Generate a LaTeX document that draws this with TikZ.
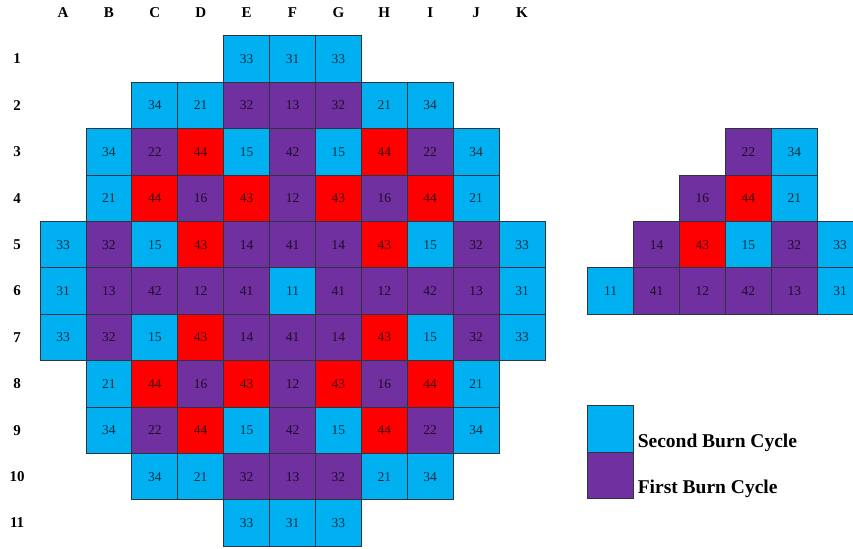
\documentclass[tikz,border=0pt]{standalone}
\usepackage{fontspec}
\setmainfont{Liberation Serif}
\usetikzlibrary{positioning,calc}
\definecolor{cyclblue}{HTML}{00B0F0}
\definecolor{cyclpurple}{HTML}{7030A0}
\definecolor{cyclred}{HTML}{FF0000}
\definecolor{gridline}{HTML}{2E3440}

\begin{document}
\begin{tikzpicture}[x=45.9pt,y=-46.4pt,
    cell/.style={draw=gridline,line width=0.9pt,minimum width=45.9pt,minimum height=46.4pt,
        inner sep=0pt,outer sep=0pt,font=\fontsize{13.5}{14}\selectfont,text opacity=0.75},
    bluecell/.style={cell,fill=cyclblue},
    purplecell/.style={cell,fill=cyclpurple},
    redcell/.style={cell,fill=cyclred},
    lbl/.style={font=\fontsize{15}{16}\selectfont\bfseries},
    legtext/.style={font=\fontsize{19.5}{20}\selectfont\bfseries,inner sep=0pt,anchor=base west}]
    \useasboundingbox (-0.3725,-0.2716) rectangle (18.21,11.539);
    \clip (-0.3725,-0.2716) rectangle (18.21,11.539);

    % column and row labels
    \foreach \c/\l in {1/A,2/B,3/C,4/D,5/E,6/F,7/G,8/H,9/I,10/J,11/K}
        \node[lbl] (col\l) at (\c,0) {\l};
    \foreach \r in {1,...,11}
        \node[lbl] (row\r) at (0,\r) {\r};

    % core map, rows mirrored top/bottom
    \foreach \r in {1,11}
        \foreach \c/\v/\s in {5/33/bluecell,6/31/bluecell,7/33/bluecell}
            \node[\s] (m\r-\c) at (\c,\r) {\v};
    \foreach \r in {2,10}
        \foreach \c/\v/\s in {3/34/bluecell,4/21/bluecell,5/32/purplecell,6/13/purplecell,
                              7/32/purplecell,8/21/bluecell,9/34/bluecell}
            \node[\s] (m\r-\c) at (\c,\r) {\v};
    \foreach \r in {3,9}
        \foreach \c/\v/\s in {2/34/bluecell,3/22/purplecell,4/44/redcell,5/15/bluecell,6/42/purplecell,
                              7/15/bluecell,8/44/redcell,9/22/purplecell,10/34/bluecell}
            \node[\s] (m\r-\c) at (\c,\r) {\v};
    \foreach \r in {4,8}
        \foreach \c/\v/\s in {2/21/bluecell,3/44/redcell,4/16/purplecell,5/43/redcell,6/12/purplecell,
                              7/43/redcell,8/16/purplecell,9/44/redcell,10/21/bluecell}
            \node[\s] (m\r-\c) at (\c,\r) {\v};
    \foreach \r in {5,7}
        \foreach \c/\v/\s in {1/33/bluecell,2/32/purplecell,3/15/bluecell,4/43/redcell,5/14/purplecell,
                              6/41/purplecell,7/14/purplecell,8/43/redcell,9/15/bluecell,10/32/purplecell,11/33/bluecell}
            \node[\s] (m\r-\c) at (\c,\r) {\v};
    \foreach \c/\v/\s in {1/31/bluecell,2/13/purplecell,3/42/purplecell,4/12/purplecell,5/41/purplecell,
                          6/11/bluecell,7/41/purplecell,8/12/purplecell,9/42/purplecell,10/13/purplecell,11/31/bluecell}
        \node[\s] (m6-\c) at (\c,6) {\v};

    % eighth-core strip on the right
    \foreach \r/\c/\v/\s in {3/4/22/purplecell,3/5/34/bluecell,
                             4/3/16/purplecell,4/4/44/redcell,4/5/21/bluecell,
                             5/2/14/purplecell,5/3/43/redcell,5/4/15/bluecell,5/5/32/purplecell,5/6/33/bluecell,
                             6/1/11/bluecell,6/2/41/purplecell,6/3/12/purplecell,6/4/42/purplecell,6/5/13/purplecell,6/6/31/bluecell}
        \node[\s] (q\r-\c) at (11.93+\c,\r) {\v};

    % legend
    \node[bluecell] (legsecond) at (12.93,8.97) {};
    \node[purplecell,below=0pt of legsecond] (legfirst) {};
    \node[legtext] (txtsecond) at ([xshift=4pt,yshift=5pt]legsecond.south east) {Second Burn Cycle};
    \node[legtext] (txtfirst) at ([xshift=4pt,yshift=5pt]legfirst.south east) {First Burn Cycle};
\end{tikzpicture}
\end{document}
